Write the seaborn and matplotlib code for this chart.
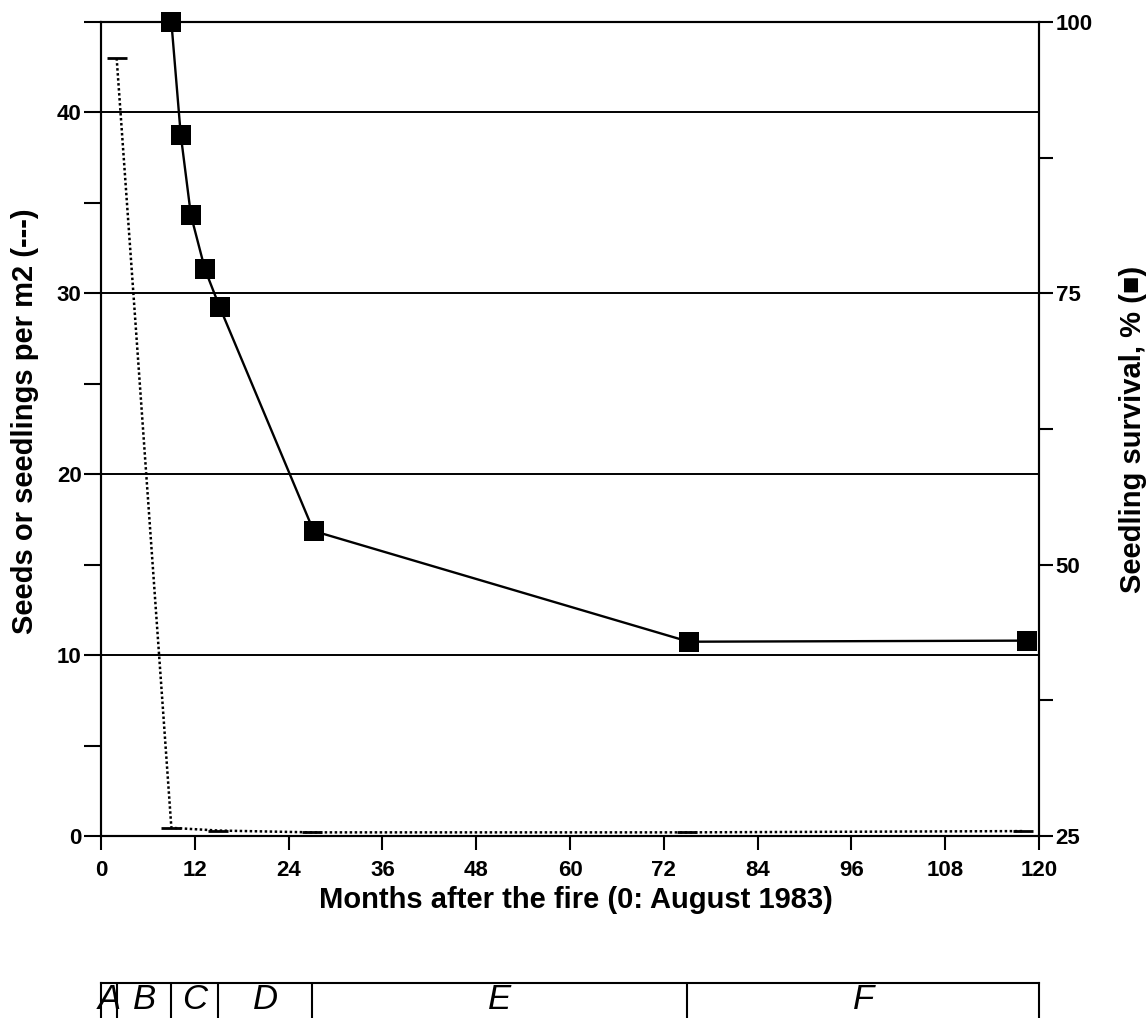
import matplotlib
matplotlib.use("Agg")
import matplotlib.pyplot as plt
import seaborn as sns
import pandas as pd
from matplotlib.ticker import MultipleLocator, FixedLocator

# ---- data ----
seed_months = [2, 9, 15, 27, 75, 118]
seed_density = [43.0, 0.45, 0.3, 0.2, 0.2, 0.27]

surv_months = [9, 10.2, 11.5, 13.3, 15.2, 27.2, 75.2, 118.4]
surv_pct = [100, 89.6, 82.2, 77.2, 73.7, 53.1, 42.9, 43.0]

stage_bounds = [0, 2, 9, 15, 27, 75, 120]
stage_labels = ["A", "B", "C", "D", "E", "F"]

x_ticks = list(range(0, 121, 12))
left_major = [0, 10, 20, 30, 40]
left_grid = [10, 20, 30, 40]
right_major = [25, 50, 75, 100]

seeds_df = pd.DataFrame({"month": seed_months, "density": seed_density})
surv_df = pd.DataFrame({"month": surv_months, "survival": surv_pct})

sns.set_style("ticks")
plt.rcParams["font.family"] = ["Liberation Sans", "DejaVu Sans"]
plt.rcParams["axes.linewidth"] = 1.5
for k in ["text.color", "axes.labelcolor", "xtick.color", "ytick.color",
          "axes.edgecolor"]:
    plt.rcParams[k] = "black"

fig = plt.figure(figsize=(11.48, 10.18), dpi=100)
ax = fig.add_axes([0.088, 0.1788, 0.8171, 0.7996])

for g in left_grid:
    ax.axhline(g, color="black", lw=1.4, zorder=1)

sns.lineplot(data=seeds_df, x="month", y="density", ax=ax, color="black",
             linestyle=(0, (1, 1)), lw=1.8, marker="_", markersize=14,
             markeredgewidth=2, markeredgecolor="black",
             clip_on=False, zorder=3)

ax.set_xlim(0, 120)
ax.set_ylim(0, 45)
ax.xaxis.set_major_locator(FixedLocator(x_ticks))
ax.yaxis.set_major_locator(FixedLocator(left_major))
ax.yaxis.set_minor_locator(MultipleLocator(5))
ax.tick_params(axis="y", which="both", length=12, width=1.5, pad=2,
               labelsize=16)
ax.tick_params(axis="x", which="major", length=10, width=1.5, pad=7,
               labelsize=16)
for lab in ax.get_xticklabels() + ax.get_yticklabels():
    lab.set_fontweight("bold")
ax.set_xlabel("Months after the fire (0: August 1983)", fontsize=21,
              fontweight="bold")
ax.xaxis.set_label_coords(0.506, -0.062)
ax.set_ylabel("Seeds or seedlings per m2 (---)", fontsize=21,
              fontweight="bold")
ax.yaxis.set_label_coords(-0.066, 0.51)
for s in ["top", "right", "left", "bottom"]:
    ax.spines[s].set_visible(True)
    ax.spines[s].set_linewidth(1.5)

axr = ax.twinx()
sns.lineplot(data=surv_df, x="month", y="survival", ax=axr, color="black",
             lw=1.7, marker="s", markersize=14, markeredgewidth=0,
             clip_on=False, zorder=4)
axr.set_ylim(25, 100)
axr.yaxis.set_major_locator(FixedLocator(right_major))
axr.yaxis.set_minor_locator(MultipleLocator(12.5))
axr.tick_params(axis="y", which="both", length=10, width=1.5, pad=2,
                labelsize=16)
for lab in axr.get_yticklabels():
    lab.set_fontweight("bold")
axr.set_ylabel("Seedling survival, % (\u25a0)", fontsize=21,
               fontweight="bold", family=["Liberation Sans", "DejaVu Sans"])
axr.yaxis.set_label_coords(1.085, 0.5)
for s in axr.spines.values():
    s.set_linewidth(1.5)

# ---- stage bar ----
axb = fig.add_axes([0.088, -0.03, 0.8171, 0.0647])
axb.set_xlim(0, 120)
axb.set_ylim(0, 1)
axb.set_xticks([])
axb.set_yticks([])
axb.spines["bottom"].set_visible(False)
for s in ["top", "left", "right"]:
    axb.spines[s].set_linewidth(1.5)
for b in stage_bounds[1:-1]:
    axb.axvline(b, color="black", lw=1.5)
for i, lab in enumerate(stage_labels):
    xc = (stage_bounds[i] + stage_bounds[i + 1]) / 2
    axb.text(xc, 0.60, lab, ha="center", va="baseline", fontsize=25,
             fontstyle="italic")

fig.savefig("out.png", dpi=100)
